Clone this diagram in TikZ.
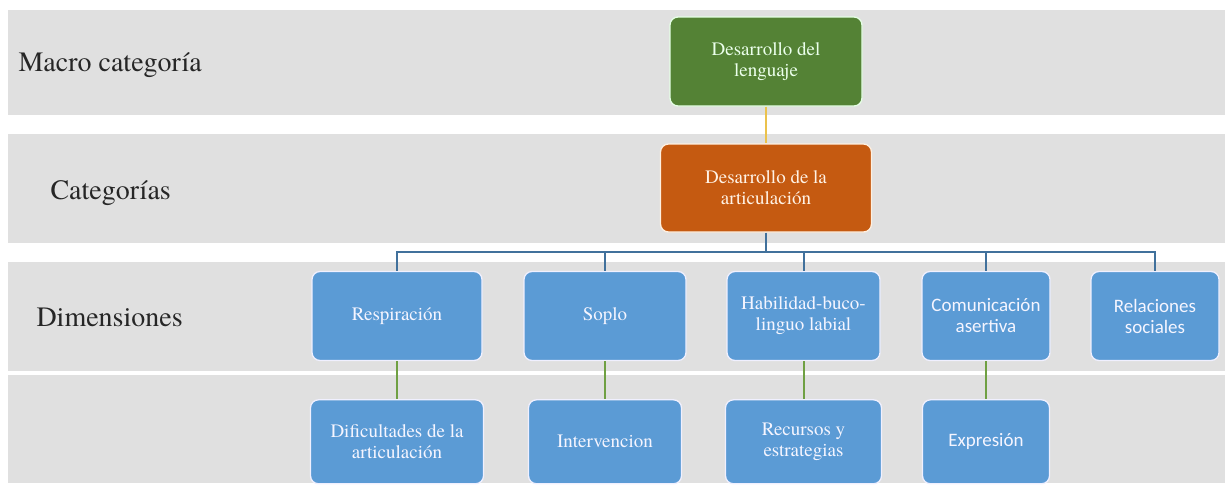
\documentclass[tikz,border=0pt]{standalone}
\usepackage{fontspec}
\setmainfont{texgyretermes}[Extension=.otf,UprightFont=*-regular,BoldFont=*-bold]
\newfontfamily\timesfont{texgyretermes}[Extension=.otf,UprightFont=*-regular]
\newfontfamily\calibrifont{Carlito}
\usetikzlibrary{positioning}

\definecolor{bandgray}{HTML}{E0E0E0}
\definecolor{macgreen}{HTML}{548235}
\definecolor{catorange}{HTML}{C55A11}
\definecolor{dimblue}{HTML}{5B9BD5}
\definecolor{linkblue}{HTML}{41719C}
\definecolor{linkgreen}{HTML}{6FA043}
\definecolor{linkyellow}{HTML}{EBC24C}

\begin{document}
\begin{tikzpicture}[x=1pt,y=-1pt,
    box/.style={rectangle,rounded corners=8pt,line width=1.3pt,align=center,
        inner sep=0pt,minimum height=89pt,font=\timesfont\fontsize{19}{21}\selectfont},
    macbox/.style={box,fill=macgreen,draw=green!10!white,text=green!8!white},
    catbox/.style={box,fill=catorange,draw=orange!12!white,text=orange!10!white},
    dimbox/.style={box,fill=dimblue,draw=blue!6!white,text=blue!4!white,minimum width=#1},
    subbox/.style={dimbox=#1,minimum height=84pt},
    rowlabel/.style={anchor=base west,text=black!85,font=\timesfont\fontsize{28}{32}\selectfont}]

  \useasboundingbox (0,0) rectangle (1228,485);

  % bands
  \foreach \top/\bot in {10/115,134/243,262/371,375/483}
    \fill[bandgray] (8,\top) rectangle (1225,\bot);

  \node[rowlabel] (maclabel) at (15,71) {Macro categoría};
  \node[rowlabel] (catlabel) at (47,199) {Categorías};
  \node[rowlabel] (dimlabel) at (33,326) {Dimensiones};

  \node[macbox,minimum width=192pt] (lenguaje) at (766,61.5) {Desarrollo del\\lenguaje};
  \node[catbox,minimum width=211pt,minimum height=88pt] (articulacion) at (766,188) {Desarrollo de la\\articulación};

  \node[dimbox=170pt] (resp) at (397,316) {Respiración};
  \node[dimbox=162pt] (soplo) at (605,316) {Soplo};
  \node[dimbox=153pt] (habil) at (803.5,316) {Habilidad-buco-\\linguo labial};
  \node[dimbox=128pt,font=\calibrifont\fontsize{19}{21}\selectfont] (comun) at (986,316) {Comunicación\\asertiva};
  \node[dimbox=128pt,font=\calibrifont\fontsize{19}{21}\selectfont] (relac) at (1155,316) {Relaciones\\sociales};

  \node[subbox=173pt] (dific) [below=38pt of resp] {Dificultades de la\\articulación};
  \node[subbox=153pt] (interv) [below=38pt of soplo] {Intervencion};
  \node[subbox=156pt] (recur) [below=38pt of habil] {Recursos y\\estrategias};
  \node[subbox=127pt,font=\calibrifont\fontsize{19}{21}\selectfont] (expre) [below=38pt of comun] {Expresión};

  \coordinate (bus) at (766,252);

  \draw[linkyellow,line width=2pt] (lenguaje) -- (articulacion);
  \draw[linkblue,line width=2pt] (articulacion) -- (bus);
  \foreach \d in {resp,soplo,habil,comun,relac}
    \draw[linkblue,line width=2pt] (bus) -| (\d.north);
  \path[linkgreen,line width=2pt]
        (resp) edge (dific)
        (soplo) edge (interv)
        (habil) edge (recur)
        (comun) edge (expre);

\end{tikzpicture}
\end{document}
